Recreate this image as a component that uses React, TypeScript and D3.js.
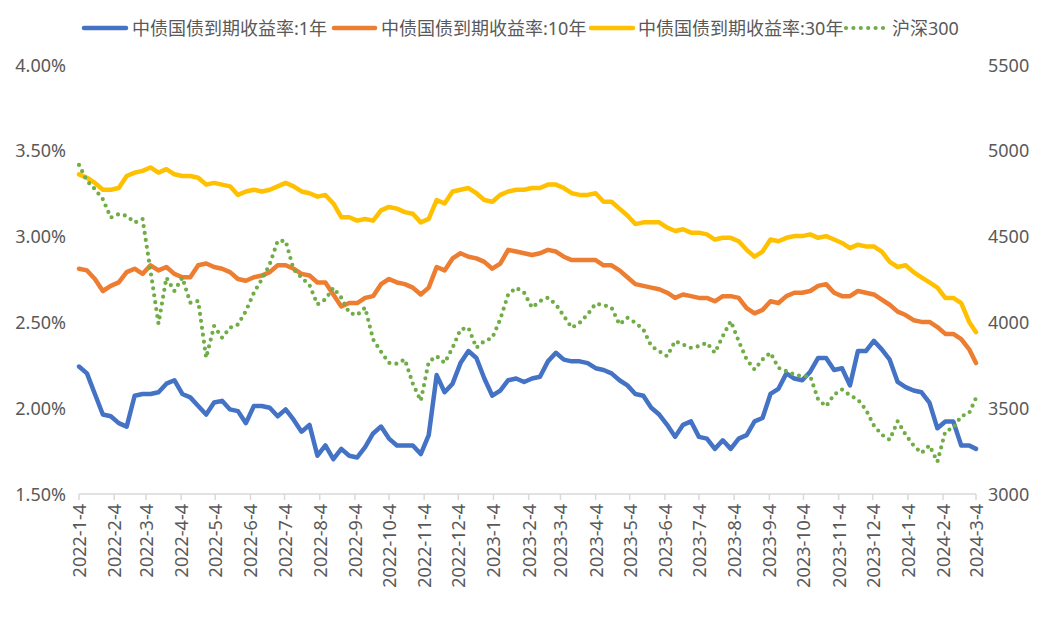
import React from "react";
import * as d3 from "d3";

// ---------- data (weekly readings from 2022-1-4, plus the final day 2024-3-4) ----------
const START = "2022-1-4";
const END = "2024-3-4";
const WEEKS = 113;

const tickLabels = [
  "2022-1-4", "2022-2-4", "2022-3-4", "2022-4-4", "2022-5-4", "2022-6-4", "2022-7-4",
  "2022-8-4", "2022-9-4", "2022-10-4", "2022-11-4", "2022-12-4", "2023-1-4", "2023-2-4",
  "2023-3-4", "2023-4-4", "2023-5-4", "2023-6-4", "2023-7-4", "2023-8-4", "2023-9-4",
  "2023-10-4", "2023-11-4", "2023-12-4", "2024-1-4", "2024-2-4", "2024-3-4",
];

const leftTicks = [1.5, 2.0, 2.5, 3.0, 3.5, 4.0];
const rightTicks = [3000, 3500, 4000, 4500, 5000, 5500];

const seriesNames = [
  "中债国债到期收益率:1年",
  "中债国债到期收益率:10年",
  "中债国债到期收益率:30年",
  "沪深300",
];

const yield1Y = [
  2.24, 2.20, 2.08, 1.96, 1.95, 1.91, 1.89, 2.07, 2.08, 2.08,
  2.09, 2.14, 2.16, 2.08, 2.06, 2.01, 1.96, 2.03, 2.04, 1.99,
  1.98, 1.91, 2.01, 2.01, 2.00, 1.95, 1.99, 1.93, 1.86,
  1.90, 1.72, 1.78, 1.70, 1.76, 1.72, 1.71, 1.77, 1.85, 1.89,
  1.82, 1.78, 1.78, 1.78, 1.73, 1.84, 2.19, 2.09, 2.14, 2.26,
  2.33, 2.29, 2.17, 2.07, 2.10, 2.16, 2.17, 2.15, 2.17,
  2.18, 2.27, 2.32, 2.28, 2.27, 2.27, 2.26, 2.23, 2.22, 2.20,
  2.16, 2.13, 2.08, 2.07, 2.00, 1.96, 1.90, 1.83, 1.90, 1.92,
  1.83, 1.82, 1.76, 1.81, 1.76, 1.82, 1.84, 1.92, 1.94,
  2.08, 2.11, 2.20, 2.17, 2.16, 2.21, 2.29, 2.29, 2.22, 2.23,
  2.13, 2.33, 2.33, 2.39, 2.34, 2.28, 2.15, 2.12, 2.10, 2.09,
  2.03, 1.88, 1.92, 1.92, 1.78, 1.78, 1.76,
];

const yield10Y = [
  2.81, 2.80, 2.75, 2.68, 2.71, 2.73, 2.79, 2.81, 2.78, 2.83,
  2.80, 2.82, 2.78, 2.76, 2.76, 2.83, 2.84, 2.82, 2.81, 2.79,
  2.75, 2.74, 2.76, 2.77, 2.79, 2.83, 2.83, 2.81, 2.78,
  2.77, 2.73, 2.73, 2.66, 2.59, 2.61, 2.61, 2.64, 2.65, 2.72,
  2.75, 2.73, 2.72, 2.70, 2.66, 2.70, 2.82, 2.80, 2.87, 2.90,
  2.88, 2.87, 2.85, 2.81, 2.84, 2.92, 2.91, 2.90, 2.89,
  2.90, 2.92, 2.91, 2.88, 2.86, 2.86, 2.86, 2.86, 2.83, 2.83,
  2.80, 2.76, 2.72, 2.71, 2.70, 2.69, 2.67, 2.64, 2.66, 2.65,
  2.64, 2.64, 2.62, 2.65, 2.65, 2.64, 2.58, 2.55, 2.57,
  2.62, 2.61, 2.65, 2.67, 2.67, 2.68, 2.71, 2.72, 2.67, 2.65,
  2.65, 2.68, 2.67, 2.66, 2.63, 2.60, 2.56, 2.54, 2.51, 2.50,
  2.50, 2.47, 2.43, 2.43, 2.40, 2.34, 2.26,
];

const yield30Y = [
  3.36, 3.34, 3.31, 3.27, 3.27, 3.28, 3.35, 3.37, 3.38, 3.40,
  3.37, 3.39, 3.36, 3.35, 3.35, 3.34, 3.30, 3.31, 3.30, 3.29,
  3.24, 3.26, 3.27, 3.26, 3.27, 3.29, 3.31, 3.29, 3.26,
  3.25, 3.23, 3.24, 3.19, 3.11, 3.11, 3.09, 3.10, 3.09, 3.15,
  3.17, 3.16, 3.14, 3.13, 3.08, 3.10, 3.21, 3.19, 3.26, 3.27,
  3.28, 3.25, 3.21, 3.20, 3.24, 3.26, 3.27, 3.27, 3.28,
  3.28, 3.30, 3.30, 3.28, 3.25, 3.24, 3.24, 3.25, 3.20, 3.20,
  3.16, 3.12, 3.07, 3.08, 3.08, 3.08, 3.05, 3.03, 3.04, 3.02,
  3.02, 3.01, 2.98, 2.99, 2.99, 2.97, 2.92, 2.88, 2.91,
  2.98, 2.97, 2.99, 3.00, 3.00, 3.01, 2.99, 3.00, 2.98, 2.96,
  2.93, 2.95, 2.94, 2.94, 2.91, 2.85, 2.82, 2.83, 2.79, 2.76,
  2.73, 2.70, 2.64, 2.64, 2.61, 2.50, 2.44,
];

const csi300 = [
  4915, 4822, 4774, 4715, 4608, 4628, 4618, 4579, 4599, 4297,
  3990, 4258, 4180, 4258, 4112, 4122, 3791, 3976, 3908, 3966,
  3985, 4063, 4170, 4248, 4336, 4472, 4472, 4306, 4258,
  4215, 4102, 4131, 4199, 4141, 4053, 4040, 4083, 3898, 3826,
  3761, 3756, 3781, 3640, 3540, 3767, 3800, 3761, 3849, 3956,
  3966, 3849, 3888, 3907, 4015, 4160, 4199, 4170, 4083,
  4121, 4141, 4102, 4034, 3966, 3995, 4044, 4106, 4098, 4083,
  3985, 4024, 3995, 3956, 3859, 3829, 3800, 3888, 3868, 3849,
  3859, 3878, 3820, 3917, 4005, 3888, 3781, 3722, 3781,
  3820, 3732, 3713, 3693, 3683, 3683, 3547, 3508, 3576, 3606,
  3572, 3547, 3489, 3397, 3343, 3313, 3421, 3343, 3280, 3236,
  3280, 3185, 3362, 3382, 3450, 3469, 3557,
];

const colors = ["#4472C4", "#ED7D31", "#FFC000", "#70AD47"];

// ---------- helpers ----------
const toDate = (s: string) => {
  const [y, m, d] = s.split("-").map(Number);
  return new Date(y, m - 1, d);
};
const startDate = toDate(START);
const endDate = toDate(END);
const dates: Date[] = [
  ...d3.range(WEEKS).map((i) => d3.timeDay.offset(startDate, 7 * i)),
  endDate,
];

const W = 1046;
const H = 619;
const FONT = "'Noto Sans', 'Noto Sans CJK SC', sans-serif";
const TEXT = "#595959";
const AXIS = "#D9D9D9";

export default function App() {
  const x = d3.scaleTime().domain([startDate, endDate]).range([79, 976]);
  const yL = d3.scaleLinear().domain([1.5, 4.0]).range([493.5, 64.5]);
  const yR = d3.scaleLinear().domain([3000, 5500]).range([493.5, 64.5]);

  const lineL = d3
    .line<number>()
    .x((_, i) => x(dates[i]))
    .y((d) => yL(d));
  const lineR = d3
    .line<number>()
    .x((_, i) => x(dates[i]))
    .y((d) => yR(d));

  const yieldSeries = [yield1Y, yield10Y, yield30Y];

  const legendItems = [
    { sx: 84, ex: 126, tx: 132 },
    { sx: 334, ex: 375, tx: 381 },
    { sx: 591, ex: 633, tx: 638 },
    { sx: 846, ex: 884, tx: 892 },
  ];

  return (
    <div style={{ position: "fixed", left: 0, top: 0, width: W, height: H, background: "#fff" }}>
      <svg width={W} height={H} style={{ display: "block" }} fontFamily={FONT}>
        <rect width={W} height={H} fill="#fff" />

        {/* legend */}
        {legendItems.map((it, i) => (
          <g key={i}>
            {i < 3 ? (
              <line x1={it.sx} x2={it.ex} y1={28} y2={28} stroke={colors[i]} strokeWidth={4.5} strokeLinecap="round" />
            ) : (
              <line x1={it.sx} x2={it.ex} y1={28} y2={28} stroke={colors[i]} strokeWidth={4.2} strokeLinecap="round" strokeDasharray="0 7.4" />
            )}
            <text x={it.tx} y={28} fontSize={18} fill={TEXT} dominantBaseline="central">
              {seriesNames[i]}
            </text>
          </g>
        ))}

        {/* left axis labels */}
        {leftTicks.map((t) => (
          <text key={"l" + t} x={66} y={yL(t)} fontSize={18} fill={TEXT} textAnchor="end" dominantBaseline="central">
            {t.toFixed(2) + "%"}
          </text>
        ))}

        {/* right axis labels */}
        {rightTicks.map((t) => (
          <text key={"r" + t} x={988} y={yR(t)} fontSize={18} fill={TEXT} textAnchor="start" dominantBaseline="central">
            {t}
          </text>
        ))}

        {/* x axis */}
        <line x1={79} x2={976} y1={494} y2={494} stroke={AXIS} strokeWidth={1.5} />
        {tickLabels.map((lab) => {
          const px = x(toDate(lab));
          return (
            <g key={lab}>
              <line x1={px} x2={px} y1={494} y2={500} stroke={AXIS} strokeWidth={1.5} />
              <text
                transform={`translate(${px},504) rotate(-90)`}
                fontSize={18}
                fill={TEXT}
                textAnchor="end"
                dominantBaseline="central"
              >
                {lab}
              </text>
            </g>
          );
        })}

        {/* yield lines */}
        {yieldSeries.map((s, i) => (
          <path
            key={"s" + i}
            d={lineL(s) || ""}
            fill="none"
            stroke={colors[i]}
            strokeWidth={4.5}
            strokeLinejoin="round"
            strokeLinecap="round"
          />
        ))}

        {/* CSI 300 dotted line on right axis */}
        <path
          d={lineR(csi300) || ""}
          fill="none"
          stroke={colors[3]}
          strokeWidth={4.2}
          strokeLinecap="round"
          strokeLinejoin="round"
          strokeDasharray="0 7"
        />
      </svg>
    </div>
  );
}
